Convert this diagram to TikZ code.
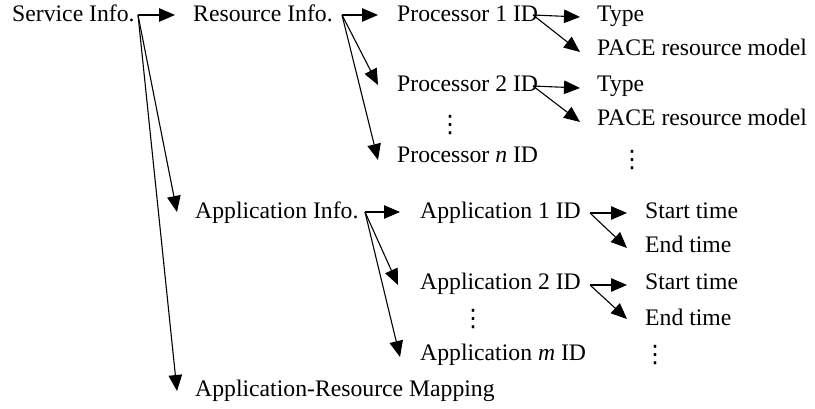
\documentclass[tikz,border=0pt]{standalone}
\usepackage{fontspec}
\setmainfont{Liberation Serif}
\newfontfamily\dotfont{DejaVu Sans}
\usetikzlibrary{arrows.meta}
\begin{document}
\begin{tikzpicture}[x=1pt,y=-1pt,
  lbl/.style={anchor=base west,inner sep=0pt,font=\fontsize{23.7}{28}\selectfont},
  dts/.style={anchor=center,inner sep=0pt,font=\dotfont\fontsize{24}{28}\selectfont},
  conn/.style={line width=1.1pt,-{Triangle[length=16pt,width=13.5pt]}}]
\useasboundingbox (0,0) rectangle (815,409);
% text nodes
\node[lbl] (svc) at (12,22) {Service Info.};
\node[lbl] (res) at (193,22) {Resource Info.};
\node[lbl] (p1) at (397,22) {Processor 1 ID};
\node[lbl] (t1) at (597,22) {Type};
\node[lbl] (pm1) at (597,56) {PACE resource model};
\node[lbl] (p2) at (397,92) {Processor 2 ID};
\node[lbl] (t2) at (597,92) {Type};
\node[lbl] (pm2) at (597,126) {PACE resource model};
\node[dts] (d1) at (450,125) {⋮};
\node[lbl] (pn) at (397,163) {Processor \textit{n} ID};
\node[dts] (d2) at (632,160) {⋮};
\node[lbl] (ai) at (195,219) {Application Info.};
\node[lbl] (a1) at (420,219) {Application 1 ID};
\node[lbl] (st1) at (645,219) {Start time};
\node[lbl] (et1) at (645,253) {End time};
\node[lbl] (a2) at (420,290) {Application 2 ID};
\node[lbl] (st2) at (645,290) {Start time};
\node[lbl] (et2) at (645,325) {End time};
\node[dts] (d3) at (473,319) {⋮};
\node[lbl] (am) at (420,360) {Application \textit{m} ID};
\node[dts] (d4) at (655,355) {⋮};
\node[lbl] (map) at (195,396) {Application-Resource Mapping};
% branch points and tips
\coordinate (sO) at (138,15);
\coordinate (resT) at (175,15);
\coordinate (aiT) at (177,212);
\coordinate (mapT) at (177,391);
\coordinate (rO) at (342,15);
\coordinate (p1T) at (378,15);
\coordinate (p2T) at (378,85);
\coordinate (pnT) at (378,160);
\coordinate (p1O) at (533,15);
\coordinate (t1T) at (580,17);
\coordinate (pm1T) at (580,52);
\coordinate (p2O) at (533,86);
\coordinate (t2T) at (580,88);
\coordinate (pm2T) at (580,122);
\coordinate (aO) at (365,212);
\coordinate (a1T) at (400,212);
\coordinate (a2T) at (398,285);
\coordinate (amT) at (400,357);
\coordinate (a1O) at (590,213);
\coordinate (st1T) at (627,213);
\coordinate (et1T) at (627,248);
\coordinate (a2O) at (590,285);
\coordinate (st2T) at (627,285);
\coordinate (et2T) at (627,319);
% connectors
\draw[conn] (sO) -- (resT);
\draw[conn] (sO) -- (aiT);
\draw[conn] (sO) -- (mapT);
\draw[conn] (rO) -- (p1T);
\draw[conn] (rO) -- (p2T);
\draw[conn] (rO) -- (pnT);
\draw[conn] (p1O) -- (t1T);
\draw[conn] (p1O) -- (pm1T);
\draw[conn] (p2O) -- (t2T);
\draw[conn] (p2O) -- (pm2T);
\draw[conn] (aO) -- (a1T);
\draw[conn] (aO) -- (a2T);
\draw[conn] (aO) -- (amT);
\draw[conn] (a1O) -- (st1T);
\draw[conn] (a1O) -- (et1T);
\draw[conn] (a2O) -- (st2T);
\draw[conn] (a2O) -- (et2T);
\end{tikzpicture}
\end{document}
